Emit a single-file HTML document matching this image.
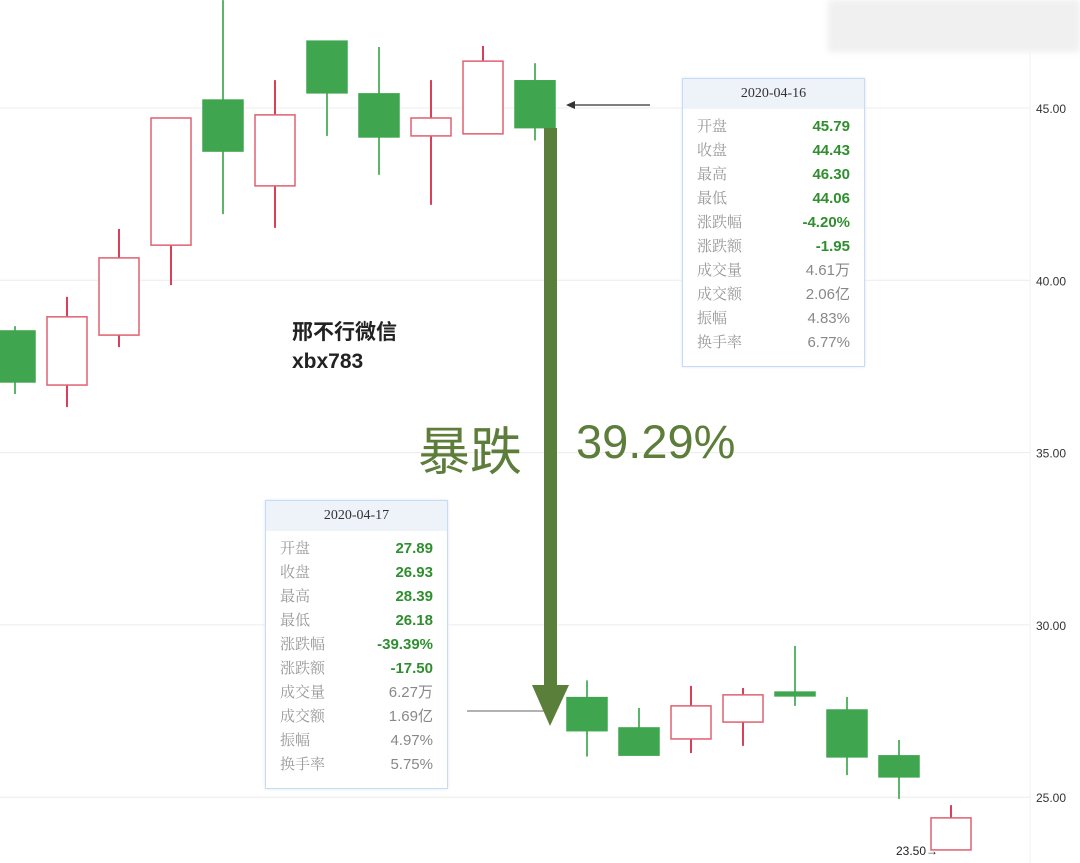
<!DOCTYPE html>
<html><head><meta charset="utf-8"><style>
body{margin:0;width:1080px;height:863px;overflow:hidden;background:#fff;font-family:"Liberation Sans","Noto Sans CJK SC",sans-serif}
.tip{position:absolute;border:1.5px solid #c7dcf2;background:#fff;box-shadow:0 0 3px #dde8f5}
.tip .h{height:30px;background:#eef3fa;text-align:center;line-height:30px;font-family:"Liberation Serif","Noto Serif CJK SC",serif;font-size:14px;color:#333}
.tip .r{display:flex;justify-content:space-between;padding:0 14px 0 14px;height:24px;line-height:24px;font-size:15px}
.tip .k{color:#999;font-family:"Liberation Serif","Noto Serif CJK SC",serif}
.g{color:#2f8f2f;font-weight:bold}.n{color:#888}
</style></head><body>
<svg id="c" width="1080" height="863" style="position:absolute;left:0;top:0"></svg>
<div style="position:absolute;left:828px;top:0;width:252px;height:52px;background:#f0f0f0;filter:blur(3px)"></div>
<div class="tip" style="left:682px;top:78px;width:181px;height:287px">
<div class="h">2020-04-16</div><div style="height:6px"></div>
<div class="r"><span class="k">开盘</span><span class="g">45.79</span></div>
<div class="r"><span class="k">收盘</span><span class="g">44.43</span></div>
<div class="r"><span class="k">最高</span><span class="g">46.30</span></div>
<div class="r"><span class="k">最低</span><span class="g">44.06</span></div>
<div class="r"><span class="k">涨跌幅</span><span class="g">-4.20%</span></div>
<div class="r"><span class="k">涨跌额</span><span class="g">-1.95</span></div>
<div class="r"><span class="k">成交量</span><span class="n">4.61万</span></div>
<div class="r"><span class="k">成交额</span><span class="n">2.06亿</span></div>
<div class="r"><span class="k">振幅</span><span class="n">4.83%</span></div>
<div class="r"><span class="k">换手率</span><span class="n">6.77%</span></div>
</div>
<div class="tip" style="left:265px;top:500px;width:181px;height:287px">
<div class="h">2020-04-17</div><div style="height:6px"></div>
<div class="r"><span class="k">开盘</span><span class="g">27.89</span></div>
<div class="r"><span class="k">收盘</span><span class="g">26.93</span></div>
<div class="r"><span class="k">最高</span><span class="g">28.39</span></div>
<div class="r"><span class="k">最低</span><span class="g">26.18</span></div>
<div class="r"><span class="k">涨跌幅</span><span class="g">-39.39%</span></div>
<div class="r"><span class="k">涨跌额</span><span class="g">-17.50</span></div>
<div class="r"><span class="k">成交量</span><span class="n">6.27万</span></div>
<div class="r"><span class="k">成交额</span><span class="n">1.69亿</span></div>
<div class="r"><span class="k">振幅</span><span class="n">4.97%</span></div>
<div class="r"><span class="k">换手率</span><span class="n">5.75%</span></div>
</div>
<div style="position:absolute;left:292px;top:318px;font-size:21px;font-weight:bold;color:#222;line-height:29px">邢不行微信<br>xbx783</div>
<div style="position:absolute;left:418px;top:410px;font-size:52px;color:#5d7d3a;white-space:nowrap">暴跌</div>
<div style="position:absolute;left:576px;top:414px;font-size:47px;color:#5d7d3a;white-space:nowrap">39.29%</div>
<script>
const opens =[38.53,36.96,38.41,41.02,45.23,42.74,46.94,45.41,44.19,44.25,45.79,27.89,27.01,26.69,27.18,28.05,27.53,26.20,23.47];
const closes=[37.05,38.94,40.65,44.71,43.75,44.80,45.44,44.16,44.71,46.36,44.43,26.93,26.22,27.65,27.97,27.94,26.17,25.59,24.40];
const highs =[38.67,39.52,41.49,44.71,48.13,45.81,46.94,46.77,45.81,46.80,46.30,28.39,27.59,28.23,28.17,29.39,27.91,26.66,24.77];
const lows  =[36.70,36.32,38.06,39.86,41.92,41.52,44.19,43.06,42.19,44.25,44.06,26.18,26.22,26.28,26.49,27.65,25.64,24.95,23.47];
const ticks=[45,40,35,30,25];
const NS='http://www.w3.org/2000/svg';
const svg=document.getElementById('c');
const y=v=>108+(45-v)*34.46;
const x=i=>15+i*52.0;
function mk(t,a){const e=document.createElementNS(NS,t);for(const k in a)e.setAttribute(k,a[k]);svg.appendChild(e);return e;}
ticks.forEach(t=>{
 const l=mk('line',{x1:0,x2:1030,y1:y(t),y2:y(t),stroke:'#ececec','stroke-width':1});
 
 
 const tx=mk('text',{x:1036,y:y(t)+5,'font-size':12,fill:'#333','font-family':'Liberation Sans'});
 tx.textContent=t.toFixed(2);
 
 
});
const sep=mk('line',{x1:1030,x2:1030,y1:52,y2:863,stroke:'#f0f0f0'});


opens.forEach((o,i)=>{
 const c=closes[i],up=c>o;
 const w=mk('line',{x1:x(i),x2:x(i),y1:y(highs[i]),y2:y(lows[i]),stroke:up?'#d9405a':'#5cb56a','stroke-width':2});
 
 
 const t=y(Math.max(o,c)),b=y(Math.min(o,c));
 const r=mk('rect',{x:x(i)-20,y:t,width:40,height:Math.max(b-t,3),fill:up?'#fff':'#3fa64f',stroke:up?'#e06070':'#3fa64f','stroke-width':1.5});
 
 
});
const a1=mk('line',{x1:650,x2:570,y1:105,y2:105,stroke:'#333','stroke-width':1.2});


const a1h=mk('path',{d:'M566 105 L575 101 L575 109 Z',fill:'#333'});


const a2=mk('line',{x1:467,x2:548,y1:711,y2:711,stroke:'#999','stroke-width':1.5});


const ar=mk('rect',{x:544,y:128,width:13,height:562,fill:'#5a7f3a'});


const ah=mk('path',{d:'M532 685 L569 685 L550 726 Z',fill:'#5a7f3a'});


const lt=mk('text',{x:896,y:855,'font-size':12,fill:'#222','font-family':'Liberation Sans'});
lt.textContent='23.50→';


</script>
</body></html>
